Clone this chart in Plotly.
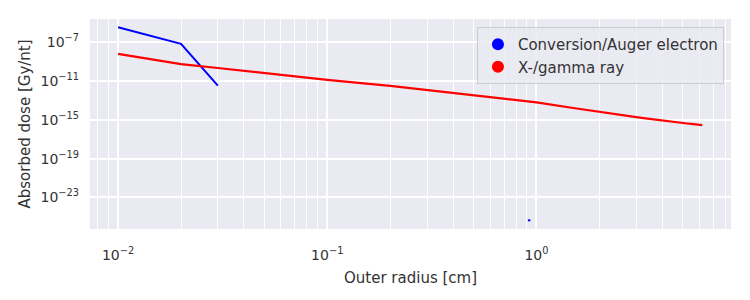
import plotly.graph_objects as go

# Conversion/Auger electron
e_radius = [0.01, 0.02, 0.03, None, 0.91, 0.935]
e_dose = [3.5e-6, 6.8e-8, 3.4e-12, None, 4.3e-26, 4.3e-26]

# X-/gamma ray
g_radius = [0.01, 0.02, 0.03, 0.043, 0.07, 0.1, 0.2, 0.3, 0.5, 0.7, 1.0, 1.5,
            2.0, 2.25, 2.5, 2.75, 3.0, 3.25, 3.5, 3.75, 4.0, 4.25, 4.5, 4.75,
            5.0, 5.25, 5.5, 5.75, 6.0, 6.2]
g_dose = [6.3e-9, 5.5e-10, 2.2e-10, 9.5e-11, 3.0e-11, 1.32e-11, 3.2e-12, 1.15e-12,
          3.2e-13, 1.48e-13, 6.3e-14, 1.66e-14,
          6.3e-15, 4.5e-15, 3.3e-15, 2.5e-15, 1.9e-15, 1.5e-15, 1.2e-15, 0.97e-15,
          8.0e-16, 6.9e-16, 6.0e-16, 5.3e-16, 4.7e-16, 4.2e-16, 3.75e-16, 3.4e-16,
          3.1e-16, 2.9e-16]

y_tickvals = [1e-23, 1e-19, 1e-15, 1e-11, 1e-7]
y_ticktext = ["10<sup>−23</sup>", "10<sup>−19</sup>", "10<sup>−15</sup>",
              "10<sup>−11</sup>", "10<sup>−7</sup>"]
x_tickvals = [0.01, 0.1, 1]
x_ticktext = ["10<sup>−2</sup>", "10<sup>−1</sup>", "10<sup>0</sup>"]

BLUE = "#0000ff"
RED = "#ff0000"
TXT = "#333333"
FONT = "DejaVu Sans"

fig = go.Figure()
fig.add_trace(go.Scatter(x=e_radius, y=e_dose, mode="lines",
                         line=dict(color=BLUE, width=2), showlegend=False,
                         connectgaps=False))
fig.add_trace(go.Scatter(x=g_radius, y=g_dose, mode="lines",
                         line=dict(color=RED, width=2.2), showlegend=False))
# legend entries (circle markers)
fig.add_trace(go.Scatter(x=[None], y=[None], mode="markers",
                         marker=dict(color=BLUE, size=7),
                         name="Conversion/Auger electron"))
fig.add_trace(go.Scatter(x=[None], y=[None], mode="markers",
                         marker=dict(color=RED, size=7),
                         name="X-/gamma ray"))

fig.update_layout(
    width=750, height=300,
    margin=dict(l=90, r=19, t=19, b=71),
    paper_bgcolor="white", plot_bgcolor="#eaeaf2",
    font=dict(family=FONT, size=15, color=TXT),
    legend=dict(x=0.989, y=0.962, xanchor="right", yanchor="top",
                bgcolor="rgba(234,234,242,0.85)", bordercolor="#cccccc",
                borderwidth=1, font=dict(size=15, color=TXT),
                itemsizing="constant", tracegroupgap=2),
)
fig.update_xaxes(type="log", range=[-2.134, 0.93],
                 tickvals=x_tickvals, ticktext=x_ticktext,
                 showgrid=True, gridcolor="white", gridwidth=1.5,
                 minor=dict(showgrid=True, gridcolor="white", gridwidth=1, dtick="D1", ticks=""),
                 zeroline=False, showline=False, ticks="",
                 ticklabelstandoff=16,
                 tickfont=dict(size=14, color=TXT),
                 title=dict(text="Outer radius [cm]", font=dict(size=15, color=TXT), standoff=10))
fig.update_yaxes(type="log", range=[-26.26, -4.6],
                 tickvals=y_tickvals, ticktext=y_ticktext,
                 showgrid=True, gridcolor="white", gridwidth=1.5,
                 zeroline=False, showline=False, ticks="",
                 ticklabelstandoff=10,
                 tickfont=dict(size=14, color=TXT),
                 title=dict(text="Absorbed dose [Gy/nt]", font=dict(size=15, color=TXT), standoff=6))

fig.write_html("out.html")
